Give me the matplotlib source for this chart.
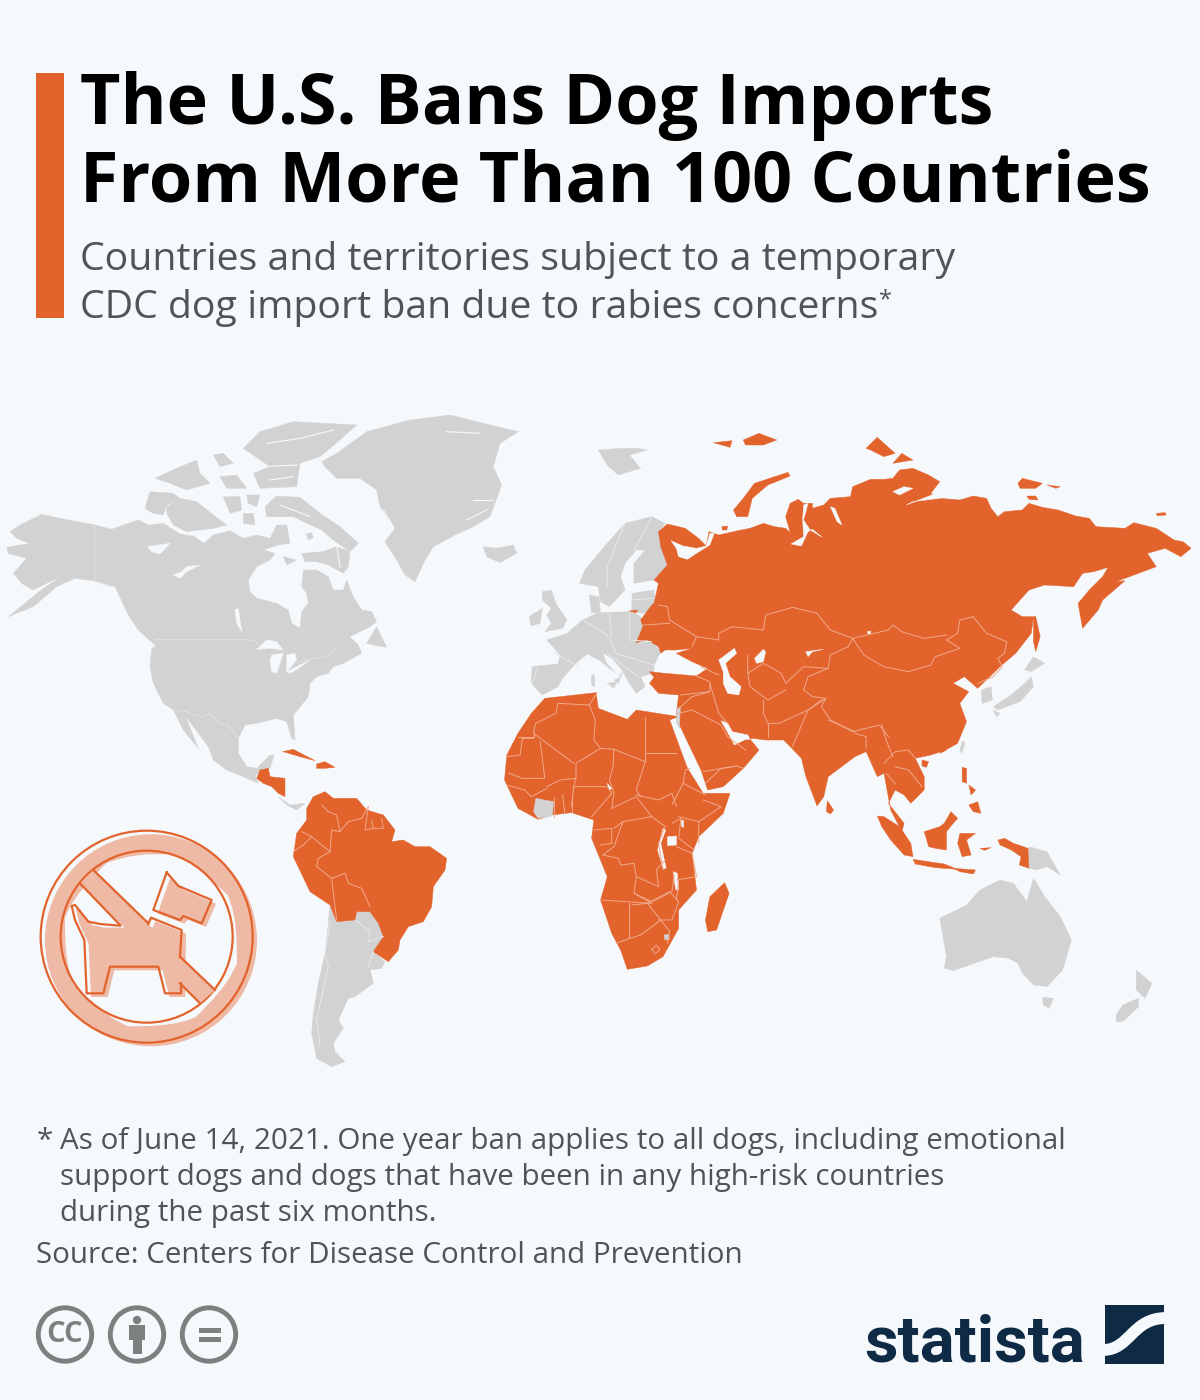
import matplotlib
matplotlib.use("Agg")
import matplotlib.pyplot as plt
from matplotlib.patches import Polygon, Circle, Rectangle, PathPatch
from matplotlib.path import Path

BG = "#F5F9FC"; ORANGE = "#E3632C"; GRAY = "#D2D2D2"; TINT = "#EEB9A5"; NAVY = "#0F2A44"
TITLE = ["The U.S. Bans Dog Imports", "From More Than 100 Countries"]
SUBTITLE = ["Countries and territories subject to a temporary", "CDC dog import ban due to rabies concerns"]
NOTE = ["As of June 14, 2021. One year ban applies to all dogs, including emotional",
        "support dogs and dogs that have been in any high-risk countries",
        "during the past six months."]
SOURCE = "Source: Centers for Disease Control and Prevention"

# Map outlines. Each frame below = (left, top, x scale, y scale)
F_NA = (0, 410, 3, 3)
F_EU = (500, 420, 2.24, 3)
F_AF = (480, 680, 2.24, 3)
F_SA = (20, 780, 3, 3)

NORTH_AMERICA = [(30,365),(60,345),(125,313),(180,325),(285,345),(335,358),(370,345),(415,330),(445,345),(490,340),(540,372),(580,378),(612,400),(640,375),(690,362),(730,385),(770,375),(810,385),(830,345),(860,345),(870,400),(835,405),(790,420),(825,430),(810,450),(770,470),(745,510),(750,545),(770,565),(830,580),(865,600),(875,640),(900,655),(905,605),(925,580),(920,550),(905,530),(910,480),(950,480),(985,500),(1000,540),(1030,540),(1040,510),(1060,560),(1085,600),(1115,605),(1130,635),(1110,650),(1060,675),(1015,695),(985,715),(1040,672),(1075,705),(1085,730),(1030,760),(1000,770),(985,790),(950,800),(930,820),(925,860),(905,885),(880,915),(885,990),(875,985),(860,935),(830,925),(770,940),(735,945),(715,985),(715,1030),(740,1070),(770,1075),(810,1035),(822,1036),(810,1075),(765,1095),(775,1120),(730,1100),(680,1080),(640,1050),(625,1010),(565,930),(555,915),(595,1015),(550,960),(520,900),(490,880),(460,820),(450,770),(455,715),(468,708),(415,660),(385,615),(345,530),(285,513),(225,505),(170,530),(100,590),(25,620),(80,575),(130,535),(190,495),(130,525),(100,540),(65,520),(40,490),(80,445),(25,430),(20,412),(90,400),(50,385)]
NEWFOUNDLAND = [(1100,700),(1130,650),(1160,712),(1120,705)]
BAFFIN = [(795,290),(830,258),(900,262),(960,310),(1020,350),(1075,400),(1050,425),(1000,390),(965,360),(920,340),(880,320),(830,320),(800,320)]
FOXE = [(905,430),(970,425),(1010,410),(1050,425),(1045,470),(1030,490),(985,465),(950,455),(915,455)]
PRINCE_CHARLES = [(918,372),(935,368),(940,382),(925,390)]
VICTORIA = [(500,290),(540,265),(590,275),(640,315),(680,345),(640,355),(560,365),(520,345),(500,310)]
BANKS = [(435,295),(450,245),(520,250),(540,265),(500,285),(490,315),(460,310)]
ELLESMERE = [(730,115),(780,65),(880,35),(1070,45),(1020,90),(960,140),(900,160),(890,230),(780,235),(760,190),(810,170)]
ARCTIC_A = [(640,135),(670,130),(700,160),(660,170)]
ARCTIC_B = [(465,205),(530,175),(590,150),(600,190),(630,220),(560,240),(510,220)]
ARCTIC_C = [(660,200),(710,195),(740,235),(680,235)]
ARCTIC_D = [(670,260),(720,260),(725,300),(690,310)]
ARCTIC_E = [(740,255),(780,255),(770,290),(745,280)]
ARCTIC_F = [(730,310),(760,310),(765,345),(730,340)]
SOUTHAMPTON = [(850,440),(890,450),(860,465)]
GREENLAND = [(965,155),(1010,130),(1080,80),(1100,65),(1230,30),(1350,15),(1450,40),(1555,65),(1500,100),(1480,170),(1505,225),(1470,320),(1420,350),(1365,375),(1300,410),(1275,450),(1245,515),(1215,495),(1190,450),(1155,395),(1185,355),(1140,290),(1130,240),(1080,205),(1010,205),(975,170)]
ICELAND = [(1450,410),(1490,415),(1540,405),(1550,430),(1500,458),(1460,440)]
COSTA_PANAMA = [(835,1160),(870,1185),(915,1180),(890,1200),(860,1185)]
GRAY_NA = [NORTH_AMERICA, NEWFOUNDLAND, BAFFIN, FOXE, PRINCE_CHARLES, VICTORIA, BANKS, ELLESMERE, ARCTIC_A, ARCTIC_B, ARCTIC_C, ARCTIC_D, ARCTIC_E, ARCTIC_F, SOUTHAMPTON, GREENLAND, ICELAND, COSTA_PANAMA]

WATER_NA = [[(770,718),(800,690),(830,695),(850,720),(810,715)],
            [(815,735),(850,730),(830,790),(815,785),(810,750)],
            [(860,735),(885,730),(890,750),(860,785)],
            [(860,785),(900,765),(930,750),(900,772),(870,790)],
            [(520,495),(545,485),(560,470),(600,465),(560,485),(540,505)],
            [(442,410),(510,400),(480,432),(455,425)],
            [(705,600),(715,595),(725,665),(710,640)]]
CHANNELS_NA = [[(800,100),(900,85),(1000,60)],[(790,170),(890,165)],[(810,210),(880,200)],[(1010,405),(1020,470)],[(840,285),(930,320)],[(1340,65),(1440,70)],[(1150,300),(1180,350)],[(1400,330),(1460,300)],[(1420,270),(1480,270)]]

CENTRAL_AMERICA = [(770,1105),(780,1080),(805,1075),(810,1100),(855,1105),(855,1160),(835,1150),(815,1130),(790,1120)]
CUBA = [(848,1025),(880,1018),(945,1052),(900,1040),(860,1028)]
HISPANIOLA = [(950,1062),(975,1055),(1005,1072),(975,1075),(950,1075)]
ORANGE_NA = [CENTRAL_AMERICA, CUBA, HISPANIOLA]

SOUTH_AMERICA_BAN = [(860,85),(880,50),(915,35),(940,55),(1010,55),(1040,90),(1090,105),(1125,150),(1115,185),(1150,180),(1185,200),(1230,200),(1280,235),(1275,270),(1240,320),(1235,380),(1210,425),(1165,440),(1140,480),(1135,510),(1105,545),(1060,515),(1090,470),(1075,430),(1050,395),(1010,395),(1005,420),(950,425),(930,375),(870,335),(820,230),(830,160),(860,120)]
SOUTHERN_CONE = [(930,375),(950,425),(1005,420),(1005,395),(1050,395),(1075,430),(1090,470),(1060,515),(1095,545),(1085,565),(1050,570),(1060,610),(1005,650),(985,655),(955,720),(970,745),(940,790),(945,815),(975,845),(935,860),(890,835),(875,760),(880,700),(895,610),(915,520),(925,430)]
BORDERS_SA_BAN = [[(905,75),(925,95),(950,105),(960,155),(985,125),(1025,115),(1045,80)],[(960,155),(935,150),(930,215)],[(820,215),(850,195),(875,170),(845,155)],[(875,170),(905,195),(930,215)],[(930,215),(895,235),(890,260),(935,295),(975,280)],[(935,295),(940,340),(950,420)],[(975,280),(985,310),(1025,325),(1050,380)],[(1045,80),(1035,150),(1060,145),(1055,120)],[(1060,145),(1090,145),(1085,115)]]
BORDERS_SA_FREE = [[(1005,420),(1050,455),(1045,485),(1090,470)],[(930,430),(915,520),(925,560),(905,650),(890,720),(900,800)],[(1060,515),(1045,560)]]

ASIA_NORTH = [(355,335),(375,312),(415,325),(445,355),(462,378),(468,335),(490,345),(540,330),(560,325),(590,310),(615,320),(640,325),(650,338),(640,290),(650,250),(668,238),(680,250),(700,250),(700,265),(725,255),(740,235),(785,230),(790,200),(830,178),(860,178),(880,175),(895,150),(925,145),(960,165),(985,185),(965,220),(985,235),(1030,240),(1060,228),(1090,235),(1100,265),(1115,290),(1130,275),(1170,270),(1185,250),(1215,262),(1250,270),(1290,288),(1320,295),(1335,320),(1400,325),(1420,308),(1470,325),(1510,360),(1530,365),(1548,385),(1525,410),(1490,385),(1450,400),(1470,440),(1420,465),(1380,485),(1350,490),(1400,482),(1350,540),(1340,570),(1305,625),(1295,550),(1320,510),(1350,470),(1362,442),(1330,455),(1305,460),(1285,500),(1220,495),(1185,510),(1145,570),(1170,590),(1195,590),(1190,640),(1155,700),(1120,740),(1105,760),(1070,805),(1040,770),(1015,790),(1050,815),(1030,850),(1045,905),(1025,970),(985,1000)]
ASIA_SOUTH = [(1045,210),(1010,225),(975,235),(995,290),(995,330),(965,370),(950,345),(930,330),(915,370),(950,430),(945,455),(920,390),(905,280),(890,290),(865,215),(840,230),(780,290),(770,350),(755,378),(730,290),(720,235),(695,200),(680,180),(640,180),(610,175),(605,178),(625,210),(590,265),(545,320),(510,330),(495,270),(470,200),(445,130),(440,100)]
ASIA_WEST = [(400,825),(355,820),(335,790),(345,772),(335,755),(370,760),(440,768),(465,745),(430,725),(395,700),(430,685),(395,690),(370,690),(360,700),(355,680),(330,660),(305,668),(320,620),(315,600),(340,555),(345,550),(355,490),(345,480),(375,435),(360,380)]
NOVAYA_ZEMLYA = [(523,270),(545,235),(570,190),(645,157),(650,168),(600,195),(565,235),(555,290),(530,290)]
KOLGUEV = [(497,320),(510,318),(508,330),(498,330)]
SEVERNAYA_A = [(820,85),(845,52),(860,70),(885,100),(860,110),(830,90)]
SEVERNAYA_B = [(880,130),(900,100),(925,120)]
FRANZ_A = [(478,68),(520,62),(515,82)]
FRANZ_B = [(545,60),(580,40),(620,60),(590,75),(550,75)]
SIBERIAN_A = [(1160,190),(1170,175),(1215,190),(1200,205),(1165,205)]
SIBERIAN_B = [(1225,195),(1255,200),(1245,205)]
SIBERIAN_C = [(1180,228),(1200,228),(1205,240),(1185,238)]
WRANGEL = [(1470,280),(1490,278),(1492,285),(1472,287)]
SAKHALIN = [(1195,590),(1200,590),(1210,650),(1200,695),(1195,665)]
KALININGRAD = [(288,573),(308,570),(305,578)]
ORANGE_EU = [NOVAYA_ZEMLYA, KOLGUEV, SEVERNAYA_A, SEVERNAYA_B, FRANZ_A, FRANZ_B, SIBERIAN_A, SIBERIAN_B, SIBERIAN_C, WRANGEL, SAKHALIN]

CONTINENT_EUROPE = [(72,740),(130,732),(135,705),(105,660),(150,640),(185,600),(220,578),(295,575),(315,590),(320,620),(305,668),(340,665),(360,695),(345,735),(345,760),(315,770),(325,800),(305,820),(290,790),(275,755),(265,790),(255,780),(272,770),(240,740),(222,720),(195,702),(170,730),(140,775),(130,800),(95,825),(70,790)]
SCANDINAVIA = [(178,490),(190,450),(240,370),(280,310),(340,290),(370,310),(355,335),(360,380),(375,435),(345,480),(300,490),(300,430),(325,390),(305,390),(280,430),(270,470),(280,510),(245,560),(225,545),(220,500)]
BALTICS = [(296,520),(345,510),(347,550),(340,580),(295,578)]
DENMARK = [(200,525),(222,530),(225,578),(205,578)]
BRITAIN = [(95,515),(115,510),(125,550),(150,600),(140,625),(100,635),(115,610),(105,585),(115,565),(95,540)]
IRELAND = [(65,590),(95,565),(90,610),(70,618)]
SVALBARD = [(220,90),(270,85),(310,85),(330,90),(290,105),(315,145),(265,165),(240,135)]
SARDINIA = [(205,765),(212,765),(212,800),(205,795)]
SICILY = [(240,790),(262,785),(255,805)]
HOKKAIDO = [(1175,750),(1195,710),(1220,730),(1190,755)]
HONSHU = [(1190,770),(1195,800),(1165,845),(1115,870),(1105,860),(1145,825),(1175,790)]
KYUSHU = [(1105,870),(1120,880),(1112,890)]
SOUTH_KOREA = [(1078,810),(1100,800),(1103,840),(1080,850)]
TAIWAN = [(1035,965),(1042,965),(1035,1000),(1030,990)]
ISRAEL = [(396,868),(404,860),(402,925),(396,910)]
GRAY_EU = [CONTINENT_EUROPE, SCANDINAVIA, BALTICS, DENMARK, BRITAIN, IRELAND, SVALBARD, SARDINIA, SICILY, HOKKAIDO, HONSHU, KYUSHU, SOUTH_KOREA, TAIWAN, ISRAEL]
BORDERS_EU_FREE = [[(125,700),(175,740)],[(185,600),(245,650),(260,700),(345,735)],[(245,578),(250,650)],[(290,575),(290,660),(340,665)],[(240,700),(310,770)],[(72,790),(85,745)],[(280,310),(240,440),(240,500)],[(340,290),(300,390)],[(296,540),(345,535)]]

WATER_EU = [[(490,720),(525,685),(530,700),(505,730),(515,770),(540,800),(535,825),(510,820),(500,790),(500,755)],
            [(570,715),(590,688),(595,695),(590,725),(575,730)],
            [(685,695),(725,688),(700,695),(690,710)],
            [(383,362),(410,378),(440,385),(462,378),(470,340),(480,340),(470,375),(440,400),(420,418),(400,410),(395,385)],
            [(680,255),(690,250),(680,300),(695,330),(722,352),(700,328),(690,335),(675,378),(652,372),(680,350),(678,300)],
            [(740,260),(750,265),(766,315),(755,305)],
            [(880,215),(905,200),(925,205),(895,225)],
            [(910,255),(980,218),(985,235),(925,245)],
            [(232,702),(250,715),(275,755),(265,765),(240,730)],
            [(823,634),(831,634),(830,641),(824,641)]]

AFRICA = [(145,55),(260,38),(265,85),(330,118),(350,90),(445,110),(425,120),(455,230),(465,265),(500,340),(560,340),(545,400),(490,470),(475,520),(485,630),(445,690),(445,745),(410,830),(375,858),(330,868),(315,810),(295,760),(270,660),(285,590),(250,475),(255,420),(205,398),(160,405),(130,418),(85,385),(55,300),(60,225),(85,160),(115,100)]
MADAGASCAR = [(548,608),(558,640),(530,750),(510,755),(505,720),(515,650)]
HAINAN = [(990,240),(1005,245),(1000,262),(990,258)]
SRI_LANKA = [(778,362),(792,390),(785,402),(776,395)]
SUMATRA = [(890,408),(905,410),(940,440),(965,490),(970,530),(950,525),(920,480),(900,440)]
JAVA = [(970,538),(1040,552),(1070,568),(1020,563),(975,552)]
LESSER_SUNDA = [(1060,565),(1110,570),(1105,582),(1075,575)]
BORNEO = [(995,455),(1030,440),(1040,430),(1055,395),(1070,415),(1060,430),(1045,455),(1045,510),(1020,505),(1005,500)]
SULAWESI = [(1070,490),(1075,460),(1110,460),(1090,480),(1100,525),(1080,530)]
LUZON = [(1080,262),(1090,265),(1090,310),(1080,305)]
MINDANAO = [(1095,375),(1115,365),(1122,400),(1105,395)]
VISAYAS = [(1095,315),(1110,330),(1100,345)]
PAPUA = [(1160,480),(1175,475),(1195,490),(1228,505),(1230,565),(1208,555),(1212,530),(1190,510),(1165,495)]
SERAM = [(1120,505),(1145,503),(1130,511)]
ORANGE_AF = [AFRICA, MADAGASCAR, HAINAN, SRI_LANKA, SUMATRA, JAVA, LESSER_SUNDA, BORNEO, SULAWESI, LUZON, MINDANAO, VISAYAS, PAPUA, SERAM]

IVORY_COAST = [(125,355),(165,365),(162,408),(130,415),(120,395)]
SWAZILAND = [(412,765),(423,763),(424,778),(414,780)]
PNG = [(1230,500),(1270,515),(1300,585),(1270,560),(1245,570),(1230,565)]
AUSTRALIA = [(1030,715),(1090,675),(1120,630),(1165,600),(1195,610),(1225,665),(1240,595),(1265,650),(1300,710),(1325,780),(1305,870),(1270,920),(1240,915),(1215,880),(1205,850),(1185,835),(1150,830),(1060,872),(1040,865),(1045,830)]
TASMANIA = [(1260,952),(1285,955),(1275,985),(1262,975)]
NZ_NORTH = [(1470,870),(1505,910),(1490,955),(1470,930)]
NZ_SOUTH = [(1440,975),(1475,955),(1475,980),(1440,1025),(1425,1025),(1425,1005)]
GRAY_AF = [IVORY_COAST, SWAZILAND, PNG, AUSTRALIA, TASMANIA, NZ_NORTH, NZ_SOUTH]

WATER_AF = [[(420,470),(440,468),(440,495),(420,497)],
            [(410,445),(416,450),(405,490),(417,565),(410,565),(398,510)],
            [(433,575),(442,580),(445,630),(438,628)],
            [(451,420),(456,422),(456,442),(452,440)],
            [(285,310),(295,325),(290,330)],
            [(540,122),(555,130),(565,155),(600,165),(605,178),(595,178),(570,195),(560,170)]]

BORDERS_AF = [[(120,155),(125,130),(170,100),(175,70),(245,75),(262,38)],[(85,172),(120,172),(120,155)],[(120,160),(210,250)],[(245,75),(258,120),(255,180),(270,205)],[(270,205),(215,250),(215,295),(180,300),(150,320)],[(60,230),(90,225),(95,175),(120,175)],[(135,185),(145,295),(95,295),(65,280)],[(370,110),(370,245)],[(370,245),(300,208),(270,205)],[(370,245),(350,330),(360,350)],[(370,220),(440,220)],[(300,208),(298,260),(290,300),(300,340),(295,385)],[(215,295),(210,320),(205,380)],[(210,320),(285,320),(295,340),(250,410)],[(350,345),(400,360),(430,340),(440,380)],[(430,375),(455,310),(505,345)],[(455,310),(460,270),(470,265)],[(500,360),(540,380),(490,425),(490,490)],[(445,410),(490,425)],[(430,430),(450,415),(445,475),(480,510)],[(295,385),(350,350),(385,410),(320,425),(300,445)],[(320,425),(300,500),(275,525),(310,535),(315,555),(345,550),(350,590),(400,620),(395,570),(415,540)],[(385,410),(415,440),(400,490),(410,570)],[(350,590),(345,640),(385,670),(270,660)],[(335,670),(335,775),(305,790)],[(340,675),(375,670),(405,720),(360,765),(335,775)],[(375,670),(425,635),(445,665),(430,720),(400,720)],[(405,720),(425,755),(420,790)],[(345,640),(385,665),(430,635),(435,585)],[(440,500),(475,520),(485,590),(440,600)],[(445,600),(440,660)],[(385,808),(395,796),(403,808),(393,822),(385,808)],[(60,315),(100,330),(115,350),(150,325)],[(165,350),(165,410)],[(185,345),(190,400)],[(205,345),(205,395)],[(255,450),(295,445),(295,490),(270,495)],[(905,250),(930,215),(960,210),(975,235)],[(930,260),(960,270),(990,320)],[(910,280),(930,310)],[(505,310),(540,265),(575,258),(590,265)],[(500,275),(575,258)]]
BORDERS_EU_BAN = [[(355,555),(375,560),(380,600),(440,650),(430,680)],[(320,615),(380,610)],[(440,650),(490,660),(490,640),(520,620),(590,630),(595,585),(655,562),(710,580),(740,630),(790,655)],[(790,655),(815,705),(860,740),(915,755),(965,735),(975,710),(1030,685),(1000,660),(1025,640),(1030,600),(1060,590),(1090,640),(1135,665),(1130,700),(1115,715),(1125,740),(1105,770),(1070,790)],[(790,655),(870,630),(880,615),(900,635),(950,655),(1000,645)],[(555,705),(555,760),(590,730),(630,760),(640,790)],[(640,790),(680,740),(735,745),(740,705),(780,680),(790,655)],[(735,745),(690,770),(680,810),(700,830),(730,835),(720,860),(740,900),(790,935),(850,915),(870,950)],[(555,760),(560,800),(600,840),(640,810)],[(590,840),(590,880),(600,910),(625,910),(690,870),(720,840)],[(470,790),(490,880),(510,910)],[(600,910),(600,950)],[(655,980),(690,870),(730,835)],[(440,768),(470,785),(470,815),(405,825)],[(450,740),(490,765)],[(405,860),(430,830),(470,815)],[(400,880),(430,870),(495,915),(510,950),(550,990)],[(735,900),(795,935)],[(795,940),(820,950),(820,985)],[(855,915),(865,960),(880,1010)]]

# No-dogs icon outlines
RING_OUTER = 318
RING_INNER = 258
RING_XY = (380, 470)
SLASH = [(200,290),(180,310),(540,670),(585,630),(220,270)]
SLASH_EDGES = [[(220,270),(385,430)],[(180,310),(300,435)],[(480,530),(585,630)],[(480,610),(540,670)]]
DOG_BODY = [(155,378),(165,375),(205,425),(240,432),(385,432),(393,413),(485,450),(483,640),(435,640),(415,560),(270,560),(250,640),(200,640),(193,480),(165,420)]
DOG_HEAD = [(440,277),(475,318),(575,360),(545,430),(490,408),(480,420),(400,390)]
DOG_LINE_A = [(300,437),(240,432),(205,425),(165,375),(155,378),(165,420),(193,480),(200,640),(250,640),(270,560),(415,560),(435,640),(483,640),(483,610)]
DOG_LINE_B = [(385,432),(393,413),(485,450),(480,530)]

def px(points, frame):
    ox, oy, sx, sy = frame
    return [(ox + x / sx, oy + y / sy) for x, y in points]

plt.rcParams["font.family"] = ["Open Sans", "DejaVu Sans"]
fig = plt.figure(figsize=(12, 14), dpi=100, facecolor=BG)
ax = fig.add_axes([0, 0, 1, 1])
ax.set_xlim(0, 1200); ax.set_ylim(1400, 0); ax.axis("off")

def fill(shapes, frame, color, z=2):
    for s in shapes:
        ax.add_patch(Polygon(px(s, frame), closed=True, fc=color, ec=color, lw=0.3, zorder=z))

def lines(shapes, frame, color, lw=0.7, z=4):
    for s in shapes:
        xs, ys = zip(*px(s, frame))
        ax.plot(xs, ys, color=color, lw=lw, zorder=z, solid_joinstyle="round")

# header
ax.add_patch(Rectangle((36, 73), 28, 245, fc=ORANGE, ec="none"))
for t, y in zip(TITLE, (124, 202)):
    ax.text(80, y, t, fontsize=50.5, fontweight="bold", color="black", va="baseline")
for t, y in zip(SUBTITLE, (270, 318)):
    ax.text(80, y, t, fontsize=28.25, color="#4F5557", va="baseline")
ax.text(879, 306, "*", fontsize=17, color="#4F5557", va="baseline")

# map
fill(GRAY_NA, F_NA, GRAY)
fill(WATER_NA, F_NA, BG, 3)
lines(CHANNELS_NA, F_NA, BG, 0.8, 3)
fill(ORANGE_NA, F_NA, ORANGE, 3)
fill([SOUTHERN_CONE], F_SA, GRAY)
fill([SOUTH_AMERICA_BAN], F_SA, ORANGE, 3)
fill(GRAY_EU, F_EU, GRAY)
fill(ORANGE_AF, F_AF, ORANGE, 2)
eurasia = px(ASIA_NORTH, F_EU) + px(ASIA_SOUTH, F_AF) + px(ASIA_WEST, F_EU)
ax.add_patch(Polygon(eurasia, closed=True, fc=ORANGE, ec=ORANGE, lw=0.3, zorder=2.5))
fill(ORANGE_EU + [KALININGRAD], F_EU, ORANGE, 2.6)
fill(WATER_EU, F_EU, BG, 3)
fill(WATER_AF, F_AF, BG, 3)
fill(GRAY_AF, F_AF, GRAY, 3)
fill([ISRAEL], F_EU, GRAY, 3)
lines([[(285,345),(285,513),(330,530)],[(465,688),(735,688),(770,695),(780,715)],[(890,760),(930,745),(985,740),(1010,710)],[(520,900),(560,905),(600,920),(630,912),(665,945),(680,940),(715,985)]], F_NA, "#E2E4E6", 0.6)
lines(BORDERS_SA_BAN, F_SA, "#F0A98C")
lines(BORDERS_SA_FREE, F_SA, "#E6E8EA")
lines(BORDERS_EU_FREE, F_EU, "#E6E8EA")
lines(BORDERS_EU_BAN, F_EU, "#F0A98C")
lines(BORDERS_AF, F_AF, "#F0A98C")

# icon
cx, cy = px([RING_XY], F_SA)[0]
r_out, r_in = RING_OUTER / 3, RING_INNER / 3
dx, dy = 4.3, 3.6
ring = PathPatch(Path.make_compound_path(Path.circle((cx + dx, cy + dy), r_out),
                 Path(Path.circle((cx + dx, cy + dy), r_in).vertices[::-1], Path.circle((0, 0), 1).codes)),
                 fc=TINT, ec="none", zorder=5)
ax.add_patch(ring)
ax.add_patch(Circle((cx, cy), r_out, fc="none", ec=ORANGE, lw=1.6, zorder=6))
ax.add_patch(Circle((cx, cy), r_in, fc="none", ec=ORANGE, lw=1.6, zorder=6))
for s in (DOG_BODY, DOG_HEAD):
    ax.add_patch(Polygon([(x + dx, y + dy) for x, y in px(s, F_SA)], closed=True, fc=TINT, ec="none", zorder=5))
ax.add_patch(Polygon(px(SLASH, F_SA), closed=True, fc=TINT, ec="none", zorder=7))
lines(SLASH_EDGES + [DOG_LINE_A, DOG_LINE_B, DOG_HEAD + DOG_HEAD[:1]], F_SA, ORANGE, 1.6, 8)

# notes
ax.text(37, 1149, "*", fontsize=21.3, color="#4F5557", va="baseline")
for t, y in zip(NOTE, (1149, 1185, 1221)):
    ax.text(60, y, t, fontsize=21.3, color="#4F5557", va="baseline")
ax.text(36, 1263, SOURCE, fontsize=21.3, color="#4F5557", va="baseline")

# licence icons
CC_GRAY = "#7C8180"
for x in (65, 137, 209):
    ax.add_patch(Circle((x, 1334.5), 26.7, fc="none", ec=CC_GRAY, lw=3.5))
ax.text(65, 1335, "CC", fontsize=21, fontweight="bold", color=CC_GRAY, ha="center", va="center")
ax.add_patch(Circle((137, 1320), 4.2, fc=CC_GRAY, ec="none"))
ax.add_patch(Rectangle((129, 1325), 16, 15, fc=CC_GRAY, ec="none"))
ax.add_patch(Rectangle((132.5, 1340), 9, 13.5, fc=CC_GRAY, ec="none"))
ax.add_patch(Rectangle((199, 1328), 22, 5.4, fc=CC_GRAY, ec="none"))
ax.add_patch(Rectangle((199, 1337), 22, 5.4, fc=CC_GRAY, ec="none"))

# brand
ax.text(864, 1362, "statista", fontsize=47, fontweight="bold", color=NAVY, va="baseline",
        family=["Roboto", "Open Sans"])
sq = Rectangle((1105, 1305), 59, 58.5, fc=NAVY, ec="none")
ax.add_patch(sq)
wave = PathPatch(Path([(1103, 1350), (1130, 1350), (1132, 1318), (1166, 1318)],
                      [Path.MOVETO, Path.CURVE4, Path.CURVE4, Path.CURVE4]),
                 fc="none", ec=BG, lw=8.5, zorder=3)
ax.add_patch(wave)
wave.set_clip_path(sq)

fig.savefig("out.png", dpi=100, facecolor=BG)
